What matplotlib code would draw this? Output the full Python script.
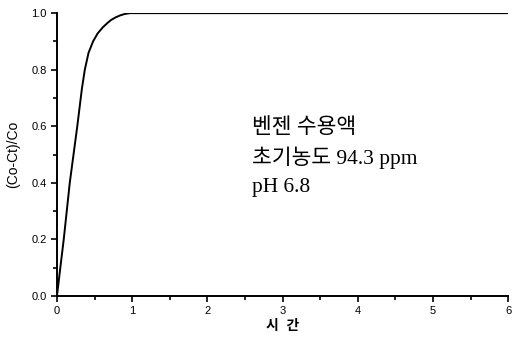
import matplotlib.pyplot as plt
from matplotlib.ticker import MultipleLocator

plt.rcParams['font.family'] = ['Liberation Sans', 'Noto Sans CJK KR', 'DejaVu Sans']

# curve
time = [0, 0.04, 0.09, 0.17, 0.27, 0.33, 0.37, 0.42, 0.48, 0.54, 0.61,
        0.67, 0.72, 0.78, 0.84, 0.9, 0.97, 6.0]
ratio = [0, 0.09, 0.2, 0.4, 0.6, 0.73, 0.8, 0.86, 0.9, 0.928, 0.95,
         0.965, 0.976, 0.985, 0.992, 0.997, 1.0, 1.0]

x_ticks = [0, 1, 2, 3, 4, 5, 6]
y_ticks = [0.0, 0.2, 0.4, 0.6, 0.8, 1.0]
note_lines = ['벤젠 수용액', '초기농도 94.3 ppm', 'pH 6.8']

fig = plt.figure(figsize=(5.18, 3.37), dpi=100)
ax = fig.add_axes([0.110, 0.122, 0.871, 0.839])
ax.plot(time, ratio, color='black', lw=1.4)

ax.set_xlim(0, 6)
ax.set_ylim(0, 1.0)
ax.set_xticks(x_ticks)
ax.set_yticks(y_ticks)
ax.set_yticklabels([f'{v:.1f}' for v in y_ticks])
ax.xaxis.set_minor_locator(MultipleLocator(0.5))
ax.yaxis.set_minor_locator(MultipleLocator(0.1))
ax.tick_params(which='both', direction='out', width=1.2, labelsize=8)
ax.tick_params(which='major', length=4)
ax.tick_params(which='minor', length=3)
for side in ['top', 'right']:
    ax.spines[side].set_visible(False)
for side in ['left', 'bottom']:
    ax.spines[side].set_linewidth(1.4)

ax.set_ylabel('(Co-Ct)/Co', fontsize=10, labelpad=8)
ax.set_xlabel('시  간', fontsize=10, fontweight='bold', labelpad=2)

for i, line in enumerate(note_lines):
    ax.text(2.6, 0.594 - i * 0.106, line, fontsize=15.5,
            family=['Liberation Serif', 'Noto Sans CJK KR'],
            ha='left', va='center')

fig.savefig('out.png', dpi=100)
